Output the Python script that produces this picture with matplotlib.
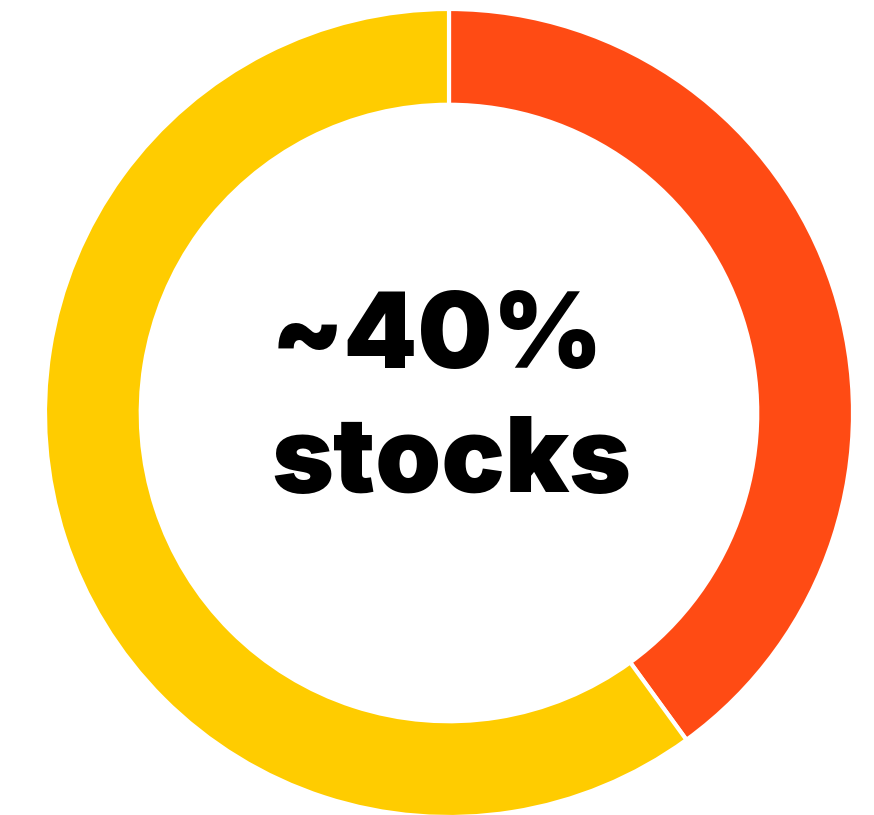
import matplotlib.pyplot as plt

# donut split: stocks vs the rest
labels = ["stocks", "other"]
shares = [40, 60]
colors = ["#FF4B14", "#FFCC00"]
center_text = "~40%\nstocks"

fig = plt.figure(figsize=(8.74, 8.15), dpi=100)
ax = fig.add_axes([0, 0, 1, 1])
ax.pie(shares, colors=colors, startangle=90, counterclock=False,
       radius=1.0, wedgeprops=dict(width=0.237, edgecolor="white", linewidth=3))

# center of ring at pixel (449, 413), radius 404 px
scale = 404.0
ax.set_xlim(-449 / scale, (874 - 449) / scale)
ax.set_ylim(-(815 - 413) / scale, 413 / scale)
ax.set_aspect("equal")
ax.axis("off")

ax.text(2 / scale, -79 / scale, center_text, ha="center", va="baseline",
        multialignment="left", fontsize=76, fontweight="black",
        family=["Inter", "DejaVu Sans"], linespacing=1.35, color="black")

fig.savefig("out.png", dpi=100)
